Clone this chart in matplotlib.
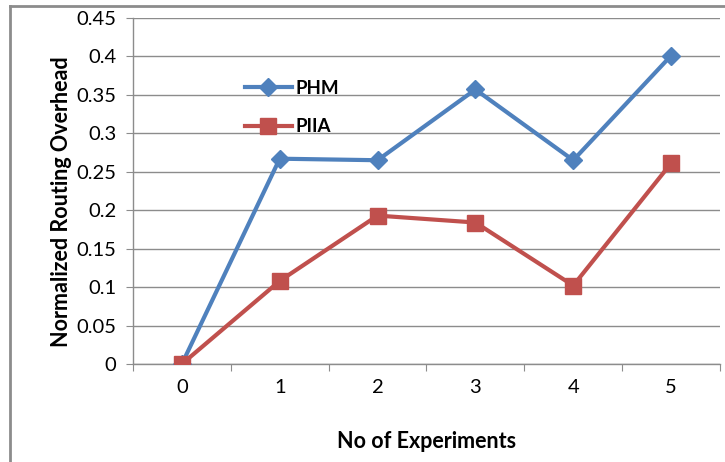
import matplotlib.pyplot as plt
from matplotlib.lines import Line2D

plt.rcParams['font.family'] = ['Lato', 'DejaVu Sans']

experiments = [0, 1, 2, 3, 4, 5]
phm = [0, 0.267, 0.265, 0.357, 0.265, 0.401]
piia = [0, 0.108, 0.193, 0.184, 0.102, 0.261]
yticks = [0, 0.05, 0.1, 0.15, 0.2, 0.25, 0.3, 0.35, 0.4, 0.45]
ytick_labels = ['0', '0.05', '0.1', '0.15', '0.2', '0.25', '0.3', '0.35', '0.4', '0.45']

blue = '#4F81BD'
red = '#C0504D'
grid = '#8C8C8C'

fig = plt.figure(figsize=(7.25, 4.62), dpi=100)
ax = fig.add_axes([0.1834, 0.2121, 0.8097, 0.749])

# outer chart frame (runs off the right and bottom of the image)
fig.add_artist(Line2D([10/725, 10/725], [-0.1, 1 - 6/462], transform=fig.transFigure, color='#8C8C8C', lw=2))
fig.add_artist(Line2D([10/725, 1.1], [1 - 6/462, 1 - 6/462], transform=fig.transFigure, color='#8C8C8C', lw=2))

ax.plot(experiments, phm, color=blue, lw=3, marker='D', ms=9, label='PHM', zorder=3)
ax.plot(experiments, piia, color=red, lw=3, marker='s', ms=11, label='PIIA', zorder=3)

ax.set_xlim(-0.5, 5.5)
ax.set_ylim(0, 0.45)
ax.set_yticks(yticks)
ax.set_yticklabels(ytick_labels)
ax.yaxis.grid(True, color=grid, lw=1)
ax.set_axisbelow(True)

# tick marks between categories, labels at category centres
ax.set_xticks([x - 0.5 for x in experiments] + [5.5])
ax.set_xticklabels([])
ax.set_xticks(experiments, minor=True)
ax.set_xticklabels([str(x) for x in experiments], minor=True)
ax.tick_params(axis='x', which='major', length=5, color=grid, direction='out')
ax.tick_params(axis='x', which='minor', length=0, pad=11, labelsize=14.5)
ax.tick_params(axis='y', length=5, color=grid, pad=7, labelsize=14.5)

for s in ['top', 'right']:
    ax.spines[s].set_visible(False)
for s in ['left', 'bottom']:
    ax.spines[s].set_color(grid)
    ax.spines[s].set_linewidth(1)

ax.set_xlabel('No of Experiments', fontweight='bold', fontsize=15.5, labelpad=25)
ax.set_ylabel('Normalized Routing Overhead', fontweight='bold', fontsize=15.5)
ax.yaxis.set_label_coords(-0.104, 0.47)

ax.legend(loc='upper left', bbox_to_anchor=(228/725, 1 - 63/462), bbox_transform=fig.transFigure,
          frameon=False, handlelength=2.5, handletextpad=0.2, labelspacing=1.15,
          prop={'weight': 'bold', 'size': 13.5})

plt.savefig('out.png', dpi=100)
